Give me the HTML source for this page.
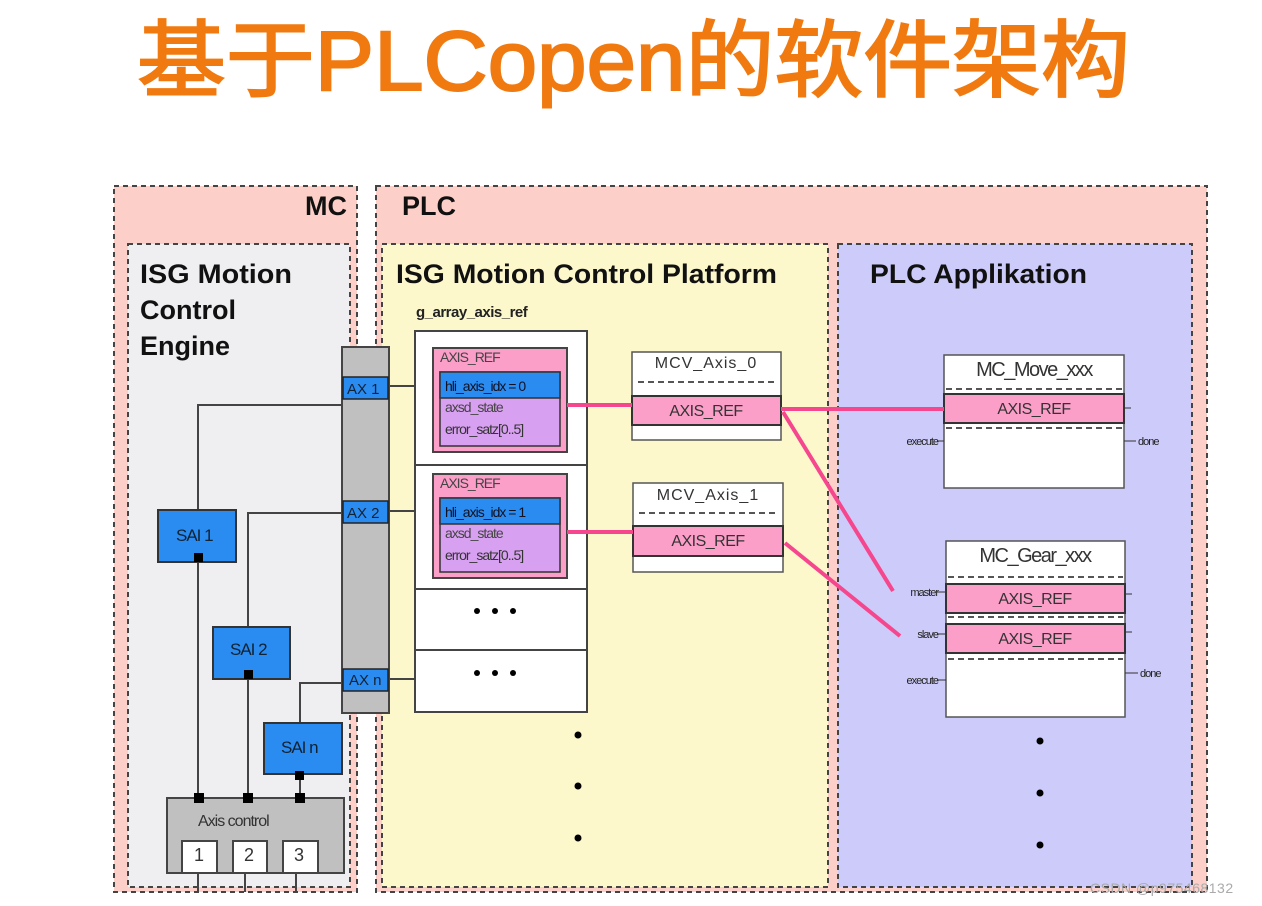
<!DOCTYPE html>
<html><head><meta charset="utf-8"><style>
html,body{margin:0;padding:0;background:#fff;width:1262px;height:906px;overflow:hidden}
svg{display:block}
text{font-family:"Liberation Sans","Noto Sans CJK SC",sans-serif}
</style></head><body>
<svg width="1262" height="906" viewBox="0 0 1262 906" xmlns="http://www.w3.org/2000/svg">
<text x="137" y="90" font-size="84" fill="#f07a10" stroke="#f07a10" stroke-width="2" textLength="993" lengthAdjust="spacingAndGlyphs">基于PLCopen的软件架构</text>

<rect x="114" y="186" width="243" height="706" fill="#fcd0c8" stroke="#444" stroke-width="2" stroke-dasharray="5,4"/>
<rect x="376" y="186" width="831" height="706" fill="#fcd0c8" stroke="#444" stroke-width="2" stroke-dasharray="5,4"/>
<rect x="128" y="244" width="222" height="643" fill="#efeff2" stroke="#444" stroke-width="2" stroke-dasharray="5,4"/>
<rect x="382" y="244" width="446" height="643" fill="#fdf8cc" stroke="#444" stroke-width="2" stroke-dasharray="5,4"/>
<rect x="838" y="244" width="354" height="643" fill="#cccbf9" stroke="#444" stroke-width="2" stroke-dasharray="5,4"/>

<text x="305" y="215" font-size="27" font-weight="bold" fill="#111">MC</text>
<text x="402" y="215" font-size="27" font-weight="bold" fill="#111">PLC</text>
<g font-size="27" font-weight="bold" fill="#111">
<text x="140" y="283" textLength="152" lengthAdjust="spacingAndGlyphs">ISG Motion</text>
<text x="140" y="319">Control</text>
<text x="140" y="355">Engine</text>
<text x="396" y="283" textLength="381" lengthAdjust="spacingAndGlyphs">ISG Motion Control Platform</text>
<text x="870" y="283" textLength="217" lengthAdjust="spacingAndGlyphs">PLC Applikation</text>
</g>
<text x="416" y="317" font-size="15" font-weight="bold" fill="#222" letter-spacing="-0.5">g_array_axis_ref</text>

<g stroke="#444" stroke-width="2" fill="none">
<polyline points="343,405 198,405 198,510"/>
<polyline points="343,513 248,513 248,627"/>
<polyline points="343,683 300,683 300,723"/>
<line x1="198" y1="562" x2="198" y2="798"/>
<line x1="248" y1="679" x2="248" y2="798"/>
<line x1="300" y1="774" x2="300" y2="798"/>
<line x1="389" y1="386" x2="415" y2="386"/>
<line x1="389" y1="511" x2="415" y2="511"/>
<line x1="389" y1="679" x2="415" y2="679"/>
<line x1="198" y1="873" x2="198" y2="892"/>
<line x1="245" y1="873" x2="245" y2="892"/>
<line x1="296" y1="873" x2="296" y2="892"/>
</g>

<rect x="342" y="347" width="47" height="366" fill="#c0c0c0" stroke="#444" stroke-width="2"/>
<g font-size="15" fill="#123">
<rect x="343" y="377" width="45" height="22" fill="#2a8cf0" stroke="#222" stroke-width="1.5"/><text x="347" y="394">AX 1</text>
<rect x="343" y="501" width="45" height="22" fill="#2a8cf0" stroke="#222" stroke-width="1.5"/><text x="347" y="518">AX 2</text>
<rect x="343" y="669" width="45" height="22" fill="#2a8cf0" stroke="#222" stroke-width="1.5"/><text x="349" y="685">AX n</text>
</g>

<g stroke="#333" stroke-width="2" fill="#2a8cf0">
<rect x="158" y="510" width="78" height="52"/>
<rect x="213" y="627" width="77" height="52"/>
<rect x="264" y="723" width="78" height="51"/>
</g>
<g font-size="17" fill="#123" letter-spacing="-1">
<text x="176" y="541">SAI 1</text><text x="230" y="655">SAI 2</text><text x="281" y="753">SAI n</text>
</g>
<rect x="167" y="798" width="177" height="75" fill="#c0c0c0" stroke="#444" stroke-width="2"/>
<text x="198" y="826" font-size="16" fill="#333" letter-spacing="-1">Axis control</text>
<g fill="#fff" stroke="#444" stroke-width="2">
<rect x="182" y="841" width="35" height="32"/><rect x="233" y="841" width="34" height="32"/><rect x="283" y="841" width="35" height="32"/>
</g>
<g font-size="18" fill="#333"><text x="194" y="861">1</text><text x="244" y="861">2</text><text x="294" y="861">3</text></g>
<g fill="#000">
<rect x="194" y="553" width="9" height="9"/><rect x="244" y="670" width="9" height="9"/><rect x="295" y="771" width="9" height="9"/>
<rect x="194" y="793" width="10" height="10"/><rect x="243" y="793" width="10" height="10"/><rect x="295" y="793" width="10" height="10"/>
</g>

<rect x="415" y="331" width="172" height="381" fill="#fff" stroke="#444" stroke-width="2"/>
<g stroke="#444" stroke-width="2"><line x1="415" y1="465" x2="587" y2="465"/><line x1="415" y1="589" x2="587" y2="589"/><line x1="415" y1="650" x2="587" y2="650"/></g>
<g font-size="14" letter-spacing="-1">
<rect x="433" y="348" width="134" height="104" fill="#fb9ec8" stroke="#444" stroke-width="2"/>
<text x="440" y="362" fill="#444">AXIS_REF</text>
<rect x="440" y="372" width="120" height="74" fill="#d8a0f0" stroke="#333" stroke-width="1.5"/>
<rect x="440" y="372" width="120" height="26" fill="#2a8cf0" stroke="#333" stroke-width="1.5"/>
<text x="445" y="391" fill="#112">hli_axis_idx = 0</text>
<text x="445" y="412" fill="#444">axsd_state</text>
<text x="445" y="434" fill="#333">error_satz[0..5]</text>

<rect x="433" y="474" width="134" height="104" fill="#fb9ec8" stroke="#444" stroke-width="2"/>
<text x="440" y="488" fill="#444">AXIS_REF</text>
<rect x="440" y="498" width="120" height="74" fill="#d8a0f0" stroke="#333" stroke-width="1.5"/>
<rect x="440" y="498" width="120" height="26" fill="#2a8cf0" stroke="#333" stroke-width="1.5"/>
<text x="445" y="517" fill="#112">hli_axis_idx = 1</text>
<text x="445" y="538" fill="#444">axsd_state</text>
<text x="445" y="560" fill="#333">error_satz[0..5]</text>
</g>
<g fill="#000">
<circle cx="477" cy="611" r="3"/><circle cx="495" cy="611" r="3"/><circle cx="513" cy="611" r="3"/>
<circle cx="477" cy="673" r="3"/><circle cx="495" cy="673" r="3"/><circle cx="513" cy="673" r="3"/>
<circle cx="578" cy="735" r="3.5"/><circle cx="578" cy="786" r="3.5"/><circle cx="578" cy="838" r="3.5"/>
<circle cx="1040" cy="741" r="3.5"/><circle cx="1040" cy="793" r="3.5"/><circle cx="1040" cy="845" r="3.5"/>
</g>

<g stroke="#555" stroke-width="1.5" fill="#fff">
<rect x="632" y="352" width="149" height="88"/>
<rect x="633" y="483" width="150" height="89"/>
<rect x="944" y="355" width="180" height="133"/>
<rect x="946" y="541" width="179" height="176"/>
</g>
<g stroke="#555" stroke-width="2" stroke-dasharray="6,4">
<line x1="638" y1="382" x2="776" y2="382"/><line x1="639" y1="513" x2="778" y2="513"/>
<line x1="946" y1="389" x2="1122" y2="389"/><line x1="946" y1="428" x2="1122" y2="428"/>
<line x1="948" y1="577" x2="1123" y2="577"/><line x1="948" y1="617" x2="1123" y2="617"/><line x1="948" y1="659" x2="1123" y2="659"/>
</g>
<g fill="#fb9ec8" stroke="#333" stroke-width="2">
<rect x="632" y="396" width="149" height="29"/>
<rect x="633" y="526" width="150" height="30"/>
<rect x="944" y="394" width="180" height="29"/>
<rect x="946" y="584" width="179" height="29"/>
<rect x="946" y="624" width="179" height="29"/>
</g>
<g font-size="16" fill="#333" letter-spacing="-0.5" text-anchor="middle">
<text x="706" y="368" letter-spacing="1">MCV_Axis_0</text>
<text x="708" y="500" letter-spacing="1">MCV_Axis_1</text>
<text x="706" y="416">AXIS_REF</text>
<text x="708" y="546">AXIS_REF</text>
<text x="1034" y="414">AXIS_REF</text>
<text x="1035" y="604">AXIS_REF</text>
<text x="1035" y="644">AXIS_REF</text>
<text x="1034" y="376" font-size="20" letter-spacing="-1.5">MC_Move_xxx</text>
<text x="1035" y="562" font-size="20" letter-spacing="-1.5">MC_Gear_xxx</text>
</g>
<g font-size="11" fill="#222" letter-spacing="-1" text-anchor="end">
<text x="938" y="445">execute</text><text x="938" y="596">master</text><text x="938" y="638">slave</text><text x="938" y="684">execute</text>
</g>
<g font-size="11" fill="#222" letter-spacing="-1">
<text x="1138" y="445">done</text><text x="1140" y="677">done</text>
</g>
<g stroke="#333" stroke-width="1">
<line x1="937" y1="441" x2="944" y2="441"/><line x1="937" y1="592" x2="946" y2="592"/><line x1="937" y1="634" x2="946" y2="634"/><line x1="937" y1="680" x2="946" y2="680"/>
<line x1="1124" y1="441" x2="1136" y2="441"/><line x1="1125" y1="673" x2="1138" y2="673"/>
<line x1="1124" y1="408" x2="1131" y2="408"/><line x1="1125" y1="594" x2="1132" y2="594"/><line x1="1125" y1="632" x2="1132" y2="632"/>
</g>

<g stroke="#f5468e" stroke-width="4" fill="none">
<line x1="567" y1="405" x2="632" y2="405"/>
<line x1="567" y1="532" x2="633" y2="532"/>
<line x1="781" y1="409" x2="944" y2="409"/>
<line x1="783" y1="412" x2="893" y2="591"/>
<line x1="785" y1="543" x2="900" y2="636"/>
</g>

<text x="1090" y="893" font-size="14" fill="#aaa" letter-spacing="0.5">CSDN @p975468132</text>
</svg>
</body></html>
